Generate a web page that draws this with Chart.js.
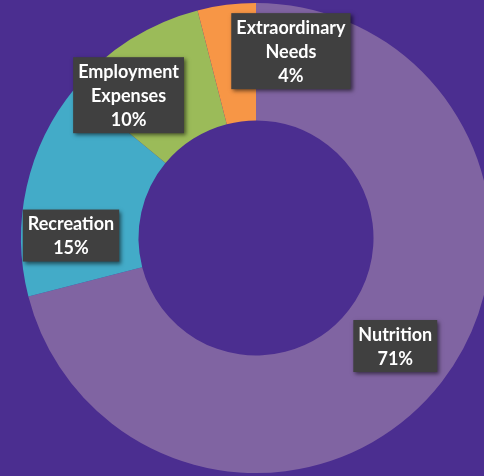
<!DOCTYPE html>
<html>
<head>
<meta charset="utf-8">
<script src="https://cdn.jsdelivr.net/npm/chart.js@4/dist/chart.umd.min.js"></script>
<style>
  html, body { margin: 0; padding: 0; background: #4b2e90; overflow: hidden; width: 484px; height: 476px; }
  #wrap { position: absolute; left: 0; top: 0; width: 512px; height: 476px; }
</style>
</head>
<body>
<div id="wrap"><canvas id="c" width="512" height="476"></canvas></div>
<script>
const categories = ["Nutrition", "Recreation", "Employment Expenses", "Extraordinary Needs"];
const values = [71, 15, 10, 4];
const labelLines = [["Nutrition", "71%"], ["Recreation", "15%"], ["Employment", "Expenses", "10%"], ["Extraordinary", "Needs", "4%"]];
const colors = ["#8064a2", "#43abc8", "#9bbb59", "#f79646"];
// label box offsets from each slice's mid-ring point (manual placements in the reference)
const labelShift = [[0, 0], [-13, 36], [-33, 6], [57, -12]];

const labelPlugin = {
  id: 'boxLabels',
  afterDatasetsDraw(chart) {
    const ctx = chart.ctx;
    const meta = chart.getDatasetMeta(0);
    ctx.save();
    ctx.font = "bold 18px Lato, 'Open Sans', sans-serif";
    ctx.textAlign = 'center';
    ctx.textBaseline = 'middle';
    const lh = 24;
    meta.data.forEach((arc, i) => {
      const p = arc.getProps(['x', 'y', 'startAngle', 'endAngle', 'innerRadius', 'outerRadius'], true);
      const mid = (p.startAngle + p.endAngle) / 2;
      const r = (p.innerRadius + p.outerRadius) / 2;
      const cx = p.x + Math.cos(mid) * r + labelShift[i][0];
      const cy = p.y + Math.sin(mid) * r + labelShift[i][1];
      const lines = labelLines[i];
      let w = 0;
      lines.forEach(l => { w = Math.max(w, ctx.measureText(l).width); });
      const bw = w + 10, bh = lines.length * lh + 4;
      ctx.save();
      ctx.shadowColor = 'rgba(0,0,0,0.55)';
      ctx.shadowBlur = 4;
      ctx.shadowOffsetX = 2;
      ctx.shadowOffsetY = 2;
      ctx.fillStyle = '#404040';
      ctx.fillRect(cx - bw / 2, cy - bh / 2, bw, bh);
      ctx.restore();
      ctx.fillStyle = '#ffffff';
      lines.forEach((l, k) => {
        ctx.fillText(l, cx, cy - bh / 2 + 2 + lh / 2 + k * lh + 1);
      });
    });
    ctx.restore();
  }
};

new Chart(document.getElementById('c'), {
  type: 'doughnut',
  data: {
    labels: categories,
    datasets: [{ data: values, backgroundColor: colors, borderWidth: 0 }]
  },
  options: {
    responsive: false,
    animation: false,
    cutout: '50%',
    layout: { padding: { left: 21, right: 21, top: 3, bottom: 3 } },
    plugins: { legend: { display: false }, tooltip: { enabled: false } }
  },
  plugins: [labelPlugin]
});
</script>
</body>
</html>
